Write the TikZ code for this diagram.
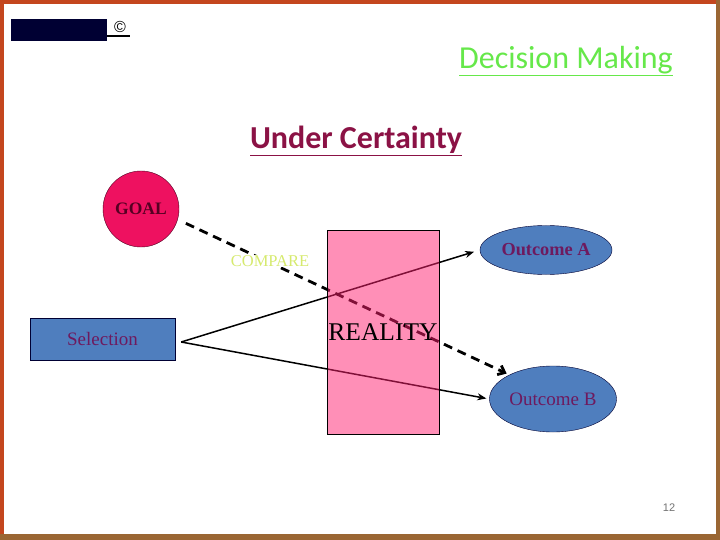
\documentclass[tikz,border=0pt]{standalone}
\usepackage{fontspec}
\setmainfont{Liberation Serif}
\newfontfamily\calibri{Carlito}
\newfontfamily\arial{Liberation Sans}
\usepackage{tikz}
\usetikzlibrary{arrows.meta,positioning,shapes.geometric}

\definecolor{frametop}{HTML}{C4461E}
\definecolor{framebot}{HTML}{9A6633}
\definecolor{logoblue}{HTML}{000033}
\definecolor{titlegreen}{HTML}{66E84A}
\definecolor{titlewine}{HTML}{8B1245}
\definecolor{goalred}{HTML}{EE1160}
\definecolor{goaltext}{HTML}{550022}
\definecolor{steel}{HTML}{4F7EBE}
\definecolor{plum}{HTML}{6E1A5E}
\definecolor{lime}{HTML}{D6EA6E}
\definecolor{rose}{RGB}{255,33,113}

\begin{document}
\begin{tikzpicture}[
    x=1pt, y=-1pt,
    >=Stealth,
    heading/.style={
        inner sep=0pt,
        font=\calibri\fontsize{32}{34}\selectfont
    },
    blob/.style={
        ellipse,
        draw=logoblue,
        fill=steel,
        inner sep=0pt,
        text=plum
    },
    link/.style={->, line width=1.5pt, >={Stealth[length=9pt,width=7pt]}},
    probe/.style={
        -{Straight Barb[length=6pt,width=10pt]},
        line width=2.8pt,
        dash pattern=on 9pt off 6pt
    }
]
    \useasboundingbox (0,0) rectangle (720,540);
    \fill[white] (0,0) rectangle (720,540);
    \fill[frametop] (0,0) rectangle (720,4);
    \fill[frametop] (0,0) rectangle (4,540);
    \fill[framebot] (716,0) rectangle (720,540);
    \fill[framebot] (0,534) rectangle (720,540);

    \node[fill=logoblue, minimum width=96pt, minimum height=22pt, inner sep=0pt] (logo) at (59,30) {};
    \node[font=\arial\fontsize{16}{16}\selectfont, inner sep=0pt] (copy) at (120,27) {\textcopyright};
    \draw[line width=1.5pt] (logo.east |- 0,36) -- ([xshift=4pt]copy.east |- 0,36);

    \node[heading, text=titlegreen] (main) at (566,61) {\underline{Decision Making}};
    \node[heading, text=titlewine, font=\calibri\bfseries\fontsize{32}{34}\selectfont] (sub) at (356,141) {\underline{Under Certainty}};

    \node[circle, draw=goaltext, fill=goalred, minimum size=76pt, inner sep=0pt,
        font=\bfseries\fontsize{17.5}{17.5}\selectfont, text=goaltext] (goal) at (141,209) {GOAL};
    \node[draw=logoblue, fill=steel, minimum width=145pt, minimum height=42pt, inner sep=0pt,
        font=\fontsize{19}{19}\selectfont, text=plum] (sel) at (102.5,339) {Selection};
    \node[blob, minimum width=132pt, minimum height=49pt, font=\bfseries\fontsize{18.3}{18.3}\selectfont] (outA) at (546,250) {Outcome A};
    \node[blob, minimum width=127pt, minimum height=66pt, font=\fontsize{19}{19}\selectfont] (outB) at (553,399) {Outcome B};

    \coordinate (fork) at ([xshift=6pt, yshift=-3pt]sel.east);
    \draw[link, shorten >=6pt] (fork) -- (outA.west);
    \draw[link, shorten >=3pt] (fork) -- (outB.west);
    \draw[probe, shorten <=9pt, shorten >=3pt] (goal.-16) -- (outB.151);

    \node[draw, fill=rose, fill opacity=0.5, draw opacity=1, text opacity=1,
        minimum width=112pt, minimum height=204pt, inner sep=0pt] (reality) at (383,332) {};
    \node[font=\fontsize{25.5}{25.5}\selectfont, inner sep=0pt] (realtext) at (reality.center) {REALITY};

    \node[fill=white, inner sep=0pt, text=lime, font=\fontsize{16.5}{16.5}\selectfont] (cmp) at (270,261) {COMPARE};

    \node[text=black!55, font=\arial\fontsize{11}{11}\selectfont] (page) at (669,508) {12};
\end{tikzpicture}
\end{document}
